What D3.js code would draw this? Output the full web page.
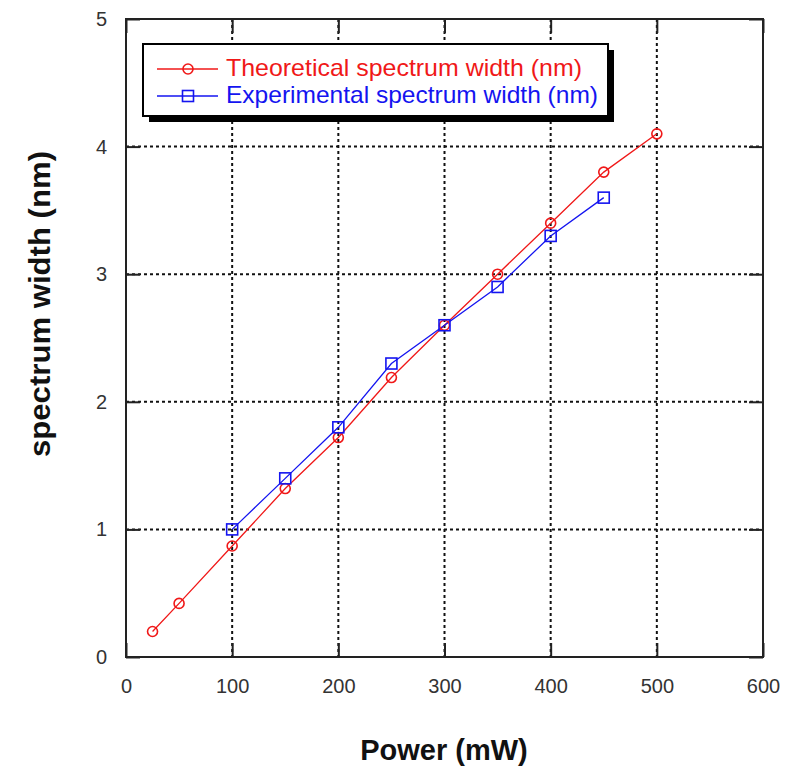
<!DOCTYPE html>
<html>
<head>
<meta charset="utf-8">
<script src="https://cdn.jsdelivr.net/npm/d3@7"></script>
<style>
  html, body { margin: 0; padding: 0; background: #fff; }
  svg { display: block; }
</style>
</head>
<body>
<svg id="chart" width="790" height="768"></svg>
<script>
// Spectrum width versus pump power
const theoPower = [25, 50, 100, 150, 200, 250, 300, 350, 400, 450, 500];
const theoWidth = [0.2, 0.42, 0.87, 1.32, 1.72, 2.19, 2.6, 3.0, 3.4, 3.8, 4.1];
const expPower = [100, 150, 200, 250, 300, 350, 400, 450];
const expWidth = [1.0, 1.4, 1.8, 2.3, 2.6, 2.9, 3.3, 3.6];
const xTicks = [0, 100, 200, 300, 400, 500, 600];
const yTicks = [0, 1, 2, 3, 4, 5];
const seriesNames = ["Theoretical spectrum width (nm)", "Experimental spectrum width (nm)"];

const svg = d3.select("#chart");
const plotLeft = 126, plotRight = 763, plotTop = 19, plotBottom = 657;

const x = d3.scaleLinear().domain([0, 600]).range([plotLeft, plotRight]);
const y = d3.scaleLinear().domain([0, 5]).range([plotBottom, plotTop]);

const font = "'Liberation Sans', Arial, sans-serif";
const tickLen = 14;
const red = "#f01818", blue = "#1414f0";

// dotted grid
const grid = svg.append("g").attr("stroke", "#111").attr("stroke-width", 2)
  .attr("stroke-dasharray", "3,3");
grid.selectAll("line.vx").data(xTicks.slice(1, -1)).join("line")
  .attr("class", "vx")
  .attr("x1", d => x(d)).attr("x2", d => x(d))
  .attr("y1", plotTop).attr("y2", plotBottom);
grid.selectAll("line.hy").data(yTicks.slice(1, -1)).join("line")
  .attr("class", "hy")
  .attr("y1", d => y(d)).attr("y2", d => y(d))
  .attr("x1", plotLeft).attr("x2", plotRight);

// axes with inward ticks on all four sides
function styleAxis(g) {
  g.select(".domain").remove();
  g.selectAll(".tick line").attr("stroke", "#222").attr("stroke-width", 2);
  g.selectAll(".tick text").attr("font-family", font).attr("font-size", 20).attr("fill", "#333");
}
svg.append("g").attr("transform", `translate(0,${plotBottom})`)
  .call(d3.axisBottom(x).tickValues(xTicks).tickSizeInner(-tickLen).tickSizeOuter(0).tickPadding(22).tickFormat(d3.format("d")))
  .call(styleAxis);
svg.append("g").attr("transform", `translate(0,${plotTop})`)
  .call(d3.axisTop(x).tickValues(xTicks).tickSizeInner(-tickLen).tickSizeOuter(0).tickFormat(""))
  .call(styleAxis);
svg.append("g").attr("transform", `translate(${plotLeft},0)`)
  .call(d3.axisLeft(y).tickValues(yTicks).tickSizeInner(-tickLen).tickSizeOuter(0).tickPadding(19).tickFormat(d3.format("d")))
  .call(styleAxis);
svg.append("g").attr("transform", `translate(${plotRight},0)`)
  .call(d3.axisRight(y).tickValues(yTicks).tickSizeInner(-tickLen).tickSizeOuter(0).tickFormat(""))
  .call(styleAxis);

// frame
svg.append("rect").attr("x", plotLeft).attr("y", plotTop)
  .attr("width", plotRight - plotLeft).attr("height", plotBottom - plotTop)
  .attr("fill", "none").attr("stroke", "#222").attr("stroke-width", 2);

// series
const theo = theoPower.map((p, i) => [p, theoWidth[i]]);
const exp = expPower.map((p, i) => [p, expWidth[i]]);
const line = d3.line().x(d => x(d[0])).y(d => y(d[1]));

svg.append("path").datum(theo).attr("d", line)
  .attr("fill", "none").attr("stroke", red).attr("stroke-width", 1.3);
svg.append("path").datum(exp).attr("d", line)
  .attr("fill", "none").attr("stroke", blue).attr("stroke-width", 1.3);

svg.selectAll("circle.theo").data(theo).join("circle")
  .attr("class", "theo")
  .attr("cx", d => x(d[0])).attr("cy", d => y(d[1])).attr("r", 5)
  .attr("fill", "none").attr("stroke", red).attr("stroke-width", 1.6);
svg.selectAll("rect.exp").data(exp).join("rect")
  .attr("class", "exp")
  .attr("x", d => x(d[0]) - 5.5).attr("y", d => y(d[1]) - 5.5)
  .attr("width", 11).attr("height", 11)
  .attr("fill", "none").attr("stroke", blue).attr("stroke-width", 1.6);

// legend with drop shadow
const lg = svg.append("g");
const lx = 143, ly = 44, lw = 465, lh = 72;
lg.append("rect").attr("x", lx + 6).attr("y", ly + 6).attr("width", lw).attr("height", lh).attr("fill", "#000");
lg.append("rect").attr("x", lx).attr("y", ly).attr("width", lw).attr("height", lh)
  .attr("fill", "#fff").attr("stroke", "#000").attr("stroke-width", 2);

const legendRows = [
  { name: seriesNames[0], color: red, shape: "circle", yy: 69, len: 356 },
  { name: seriesNames[1], color: blue, shape: "square", yy: 96, len: 372 }
];
legendRows.forEach(r => {
  lg.append("line").attr("x1", 157).attr("x2", 218).attr("y1", r.yy).attr("y2", r.yy)
    .attr("stroke", r.color).attr("stroke-width", 1.3);
  if (r.shape === "circle") {
    lg.append("circle").attr("cx", 188).attr("cy", r.yy).attr("r", 5)
      .attr("fill", "none").attr("stroke", r.color).attr("stroke-width", 1.6);
  } else {
    lg.append("rect").attr("x", 182.5).attr("y", r.yy - 5.5).attr("width", 11).attr("height", 11)
      .attr("fill", "none").attr("stroke", r.color).attr("stroke-width", 1.6);
  }
  lg.append("text").attr("x", 226).attr("y", r.yy + 7)
    .attr("font-family", font).attr("font-size", 24).attr("fill", r.color)
    .attr("textLength", r.len).attr("lengthAdjust", "spacingAndGlyphs")
    .text(r.name);
});

// axis titles
svg.append("text").attr("x", 444).attr("y", 760).attr("text-anchor", "middle")
  .attr("font-family", font).attr("font-size", 29).attr("font-weight", "bold").attr("fill", "#111")
  .text("Power (mW)");
svg.append("text").attr("transform", "translate(50,304) rotate(-90)").attr("text-anchor", "middle")
  .attr("font-family", font).attr("font-size", 29).attr("font-weight", "bold").attr("fill", "#111")
  .attr("textLength", 306).attr("lengthAdjust", "spacingAndGlyphs")
  .text("spectrum width (nm)");
</script>
</body>
</html>
